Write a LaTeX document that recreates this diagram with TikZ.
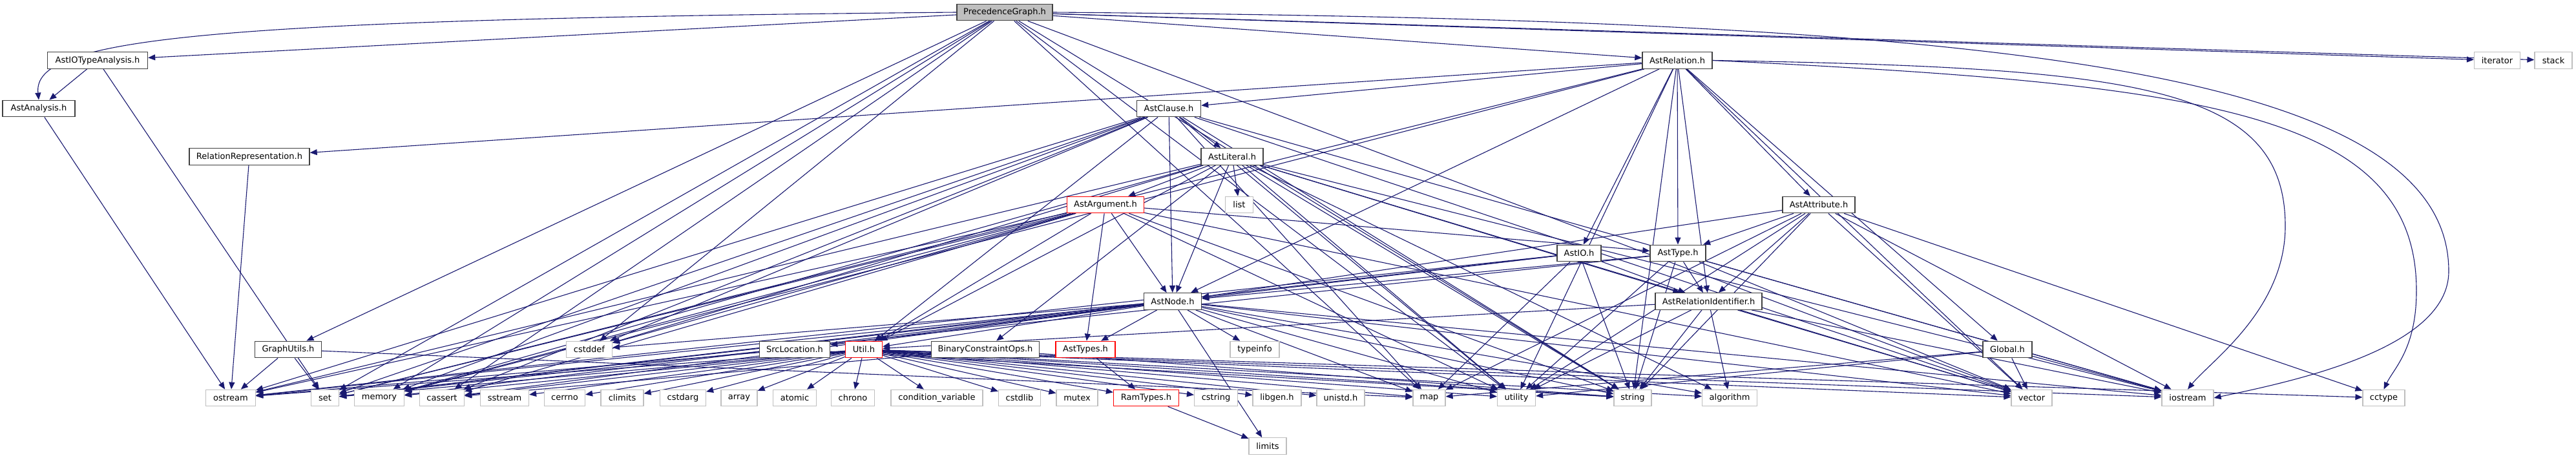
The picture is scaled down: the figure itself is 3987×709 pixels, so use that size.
\documentclass[tikz,border=0pt]{standalone}
\usepackage{fontspec}
\usetikzlibrary{arrows.meta}
\newfontfamily\dejavu{DejaVu Sans}
\definecolor{edgecol}{HTML}{191970}
\definecolor{projcol}{HTML}{404040}
\definecolor{syscol}{HTML}{BFBFBF}
\pgfdeclarelayer{bg}
\pgfsetlayers{bg,main}
\tikzset{
  base/.style={rectangle, minimum height=25.5pt, inner sep=0pt, font=\dejavu\fontsize{13}{15}\selectfont},
  proj/.style={base, draw=projcol, fill=white, line width=1.4pt},
  redn/.style={base, draw=red, fill=white, line width=1.2pt},
  sysn/.style={base, draw=syscol, fill=white, line width=1.2pt},
  rootn/.style={base, draw=projcol, fill=syscol, line width=1.4pt},
  e/.style={draw=edgecol, line width=1.1pt, -{Triangle[length=11pt,width=9pt]}},
}
\newcommand\edgesfrom[2]{\foreach \t in {#2} {\draw[e] (#1) -- (\t);}}
\begin{document}
\begin{tikzpicture}[x=1pt,y=-1pt]
\useasboundingbox (0,0) rectangle (3987,709);
% level 0
\node[rootn, minimum width=148pt] (PG) at (1555,19) {PrecedenceGraph.h};
% level 1
\node[proj, minimum width=155pt] (AIOTA) at (151,93.5) {AstIOTypeAnalysis.h};
\node[proj, minimum width=108pt] (AR) at (2596,93.5) {AstRelation.h};
\node[sysn, minimum width=71pt] (iter) at (3865,93.5) {iterator};
\node[sysn, minimum width=58pt] (stack) at (3952,93.5) {stack};
% level 2
\node[proj, minimum width=112pt] (AA) at (60,168) {AstAnalysis.h};
\node[proj, minimum width=99pt] (AC) at (1809,168) {AstClause.h};
% level 3
\node[proj, minimum width=186pt] (RR) at (386,242.5) {RelationRepresentation.h};
\node[proj, minimum width=96pt] (AL) at (1907,242.5) {AstLiteral.h};
% level 4
\node[redn, minimum width=119pt] (AArg) at (1711,317) {AstArgument.h};
\node[sysn, minimum width=43pt] (list) at (1918,317) {list};
\node[proj, minimum width=112pt] (AAttr) at (2815,317) {AstAttribute.h};
% level 5
\node[proj, minimum width=68pt] (AIO) at (2444,392) {AstIO.h};
\node[proj, minimum width=86pt] (AT) at (2597,392) {AstType.h};
% level 6
\node[proj, minimum width=89pt] (AN) at (1815,466.5) {AstNode.h};
\node[proj, minimum width=165pt] (ARI) at (2644.5,466.5) {AstRelationIdentifier.h};
% level 7
\node[proj, minimum width=103pt] (GU) at (446,541) {GraphUtils.h};
\node[sysn, minimum width=71pt] (cstddef) at (912,541) {cstddef};
\node[proj, minimum width=109pt] (SL) at (1230,541) {SrcLocation.h};
\node[redn, minimum width=57pt] (Util) at (1337,541) {Util.h};
\node[proj, minimum width=167pt] (BCO) at (1525,541) {BinaryConstraintOps.h};
\node[redn, minimum width=92pt] (ATs) at (1680,541) {AstTypes.h};
\node[sysn, minimum width=76pt] (typeinfo) at (1942,541) {typeinfo};
\node[proj, minimum width=76pt] (Global) at (3107,541) {Global.h};
% level 8
\node[sysn, minimum width=77pt] (ostream) at (357,616) {ostream};
\node[sysn, minimum width=43pt] (set) at (503,616) {set};
\node[sysn, minimum width=77pt] (memory) at (587,616) {memory};
\node[sysn, minimum width=69pt] (cassert) at (684,616) {cassert};
\node[sysn, minimum width=75pt] (sstream) at (781,616) {sstream};
\node[sysn, minimum width=63pt] (cerrno) at (874,616) {cerrno};
\node[sysn, minimum width=66pt] (climits) at (963,616) {climits};
\node[sysn, minimum width=71pt] (cstdarg) at (1057,616) {cstdarg};
\node[sysn, minimum width=56pt] (array) at (1144,616) {array};
\node[sysn, minimum width=67pt] (atomic) at (1230,616) {atomic};
\node[sysn, minimum width=67pt] (chrono) at (1320,616) {chrono};
\node[sysn, minimum width=142pt] (condvar) at (1450,616) {condition\_variable};
\node[sysn, minimum width=65pt] (cstdlib) at (1578,616) {cstdlib};
\node[sysn, minimum width=64pt] (mutex) at (1667,616) {mutex};
\node[redn, minimum width=101pt] (RT) at (1774,616) {RamTypes.h};
\node[sysn, minimum width=67pt] (cstring) at (1882,616) {cstring};
\node[sysn, minimum width=75pt] (libgen) at (1976.5,616) {libgen.h};
\node[sysn, minimum width=74pt] (unistd) at (2075,616) {unistd.h};
\node[sysn, minimum width=50pt] (map) at (2212,616) {map};
\node[sysn, minimum width=59pt] (utility) at (2347,616) {utility};
\node[sysn, minimum width=58pt] (string) at (2527,616) {string};
\node[sysn, minimum width=85pt] (algorithm) at (2677,616) {algorithm};
\node[sysn, minimum width=63pt] (vector) at (3144.5,616) {vector};
\node[sysn, minimum width=80pt] (iostream) at (3386,616) {iostream};
\node[sysn, minimum width=65pt] (cctype) at (3689.5,616) {cctype};
% level 9
\node[sysn, minimum width=58pt] (limits) at (1962,690.5) {limits};
% bend points for long curved connectors
\coordinate (pgA) at (3790,420);
\coordinate (arA) at (3740,450);
\coordinate (arB) at (3537,350);

\begin{pgfonlayer}{bg}
\draw[e] (PG.west) .. controls (300,30) and (50,60) .. (AA.north);
\draw[e] (PG.east) .. controls (3000,30) and (3790,90) .. (pgA) .. controls (3790,540) and (3550,590) .. (iostream.east);
\draw[e] (AR.east) .. controls (3400,130) and (3740,170) .. (arA) .. controls (3740,540) and (3705,570) .. (cctype.north);
\draw[e] (AR.east) .. controls (3300,105) and (3537,130) .. (arB) .. controls (3537,480) and (3420,560) .. (iostream.north);
\edgesfrom{PG}{AIOTA,AR,GU,set,cassert,cstddef,map,utility,vector,iter,stack,string,memory}
\edgesfrom{AIOTA}{AA,set}
\edgesfrom{AA}{ostream}
\edgesfrom{RR}{ostream}
\edgesfrom{GU}{ostream,set,map}
\edgesfrom{AR}{AC,RR,AIO,AT,AN,ARI,AAttr,Global,set,memory,string,vector,utility}
\edgesfrom{AC}{AL,AN,Util,memory,set,ostream,cassert,cstddef,map,utility,string,vector,iostream}
\edgesfrom{AL}{AArg,list,AN,ARI,BCO,Util,cstddef,memory,ostream,string,vector,iostream,utility,algorithm}
\edgesfrom{AArg}{AN,ATs,Util,AT,cstddef,memory,ostream,cassert,set,string,vector,utility}
\edgesfrom{AAttr}{AN,ARI,AT,utility,map,vector,iostream,cctype,string}
\edgesfrom{AIO}{AN,ARI,map,string,set,ostream}
\edgesfrom{AT}{AN,ARI,utility,string,vector,iostream,set}
\edgesfrom{ARI}{Util,string,utility,algorithm,vector,iostream}
\edgesfrom{AN}{ATs,SL,Util,typeinfo,limits,cstddef,memory,ostream,set,cassert,string,vector,iostream,map,utility,algorithm}
\edgesfrom{Util}{ostream,set,memory,cassert,sstream,cerrno,climits,cstdarg,array,atomic,chrono,condvar,cstdlib,mutex,RT,cstring,libgen,unistd,map,utility,string,algorithm,vector,iostream,cctype}
\edgesfrom{ATs}{RT}
\edgesfrom{RT}{limits}
\edgesfrom{SL}{string,ostream}
\edgesfrom{BCO}{string,cassert}
\edgesfrom{Global}{map,utility,vector,iostream}
\end{pgfonlayer}
\end{tikzpicture}
\end{document}
